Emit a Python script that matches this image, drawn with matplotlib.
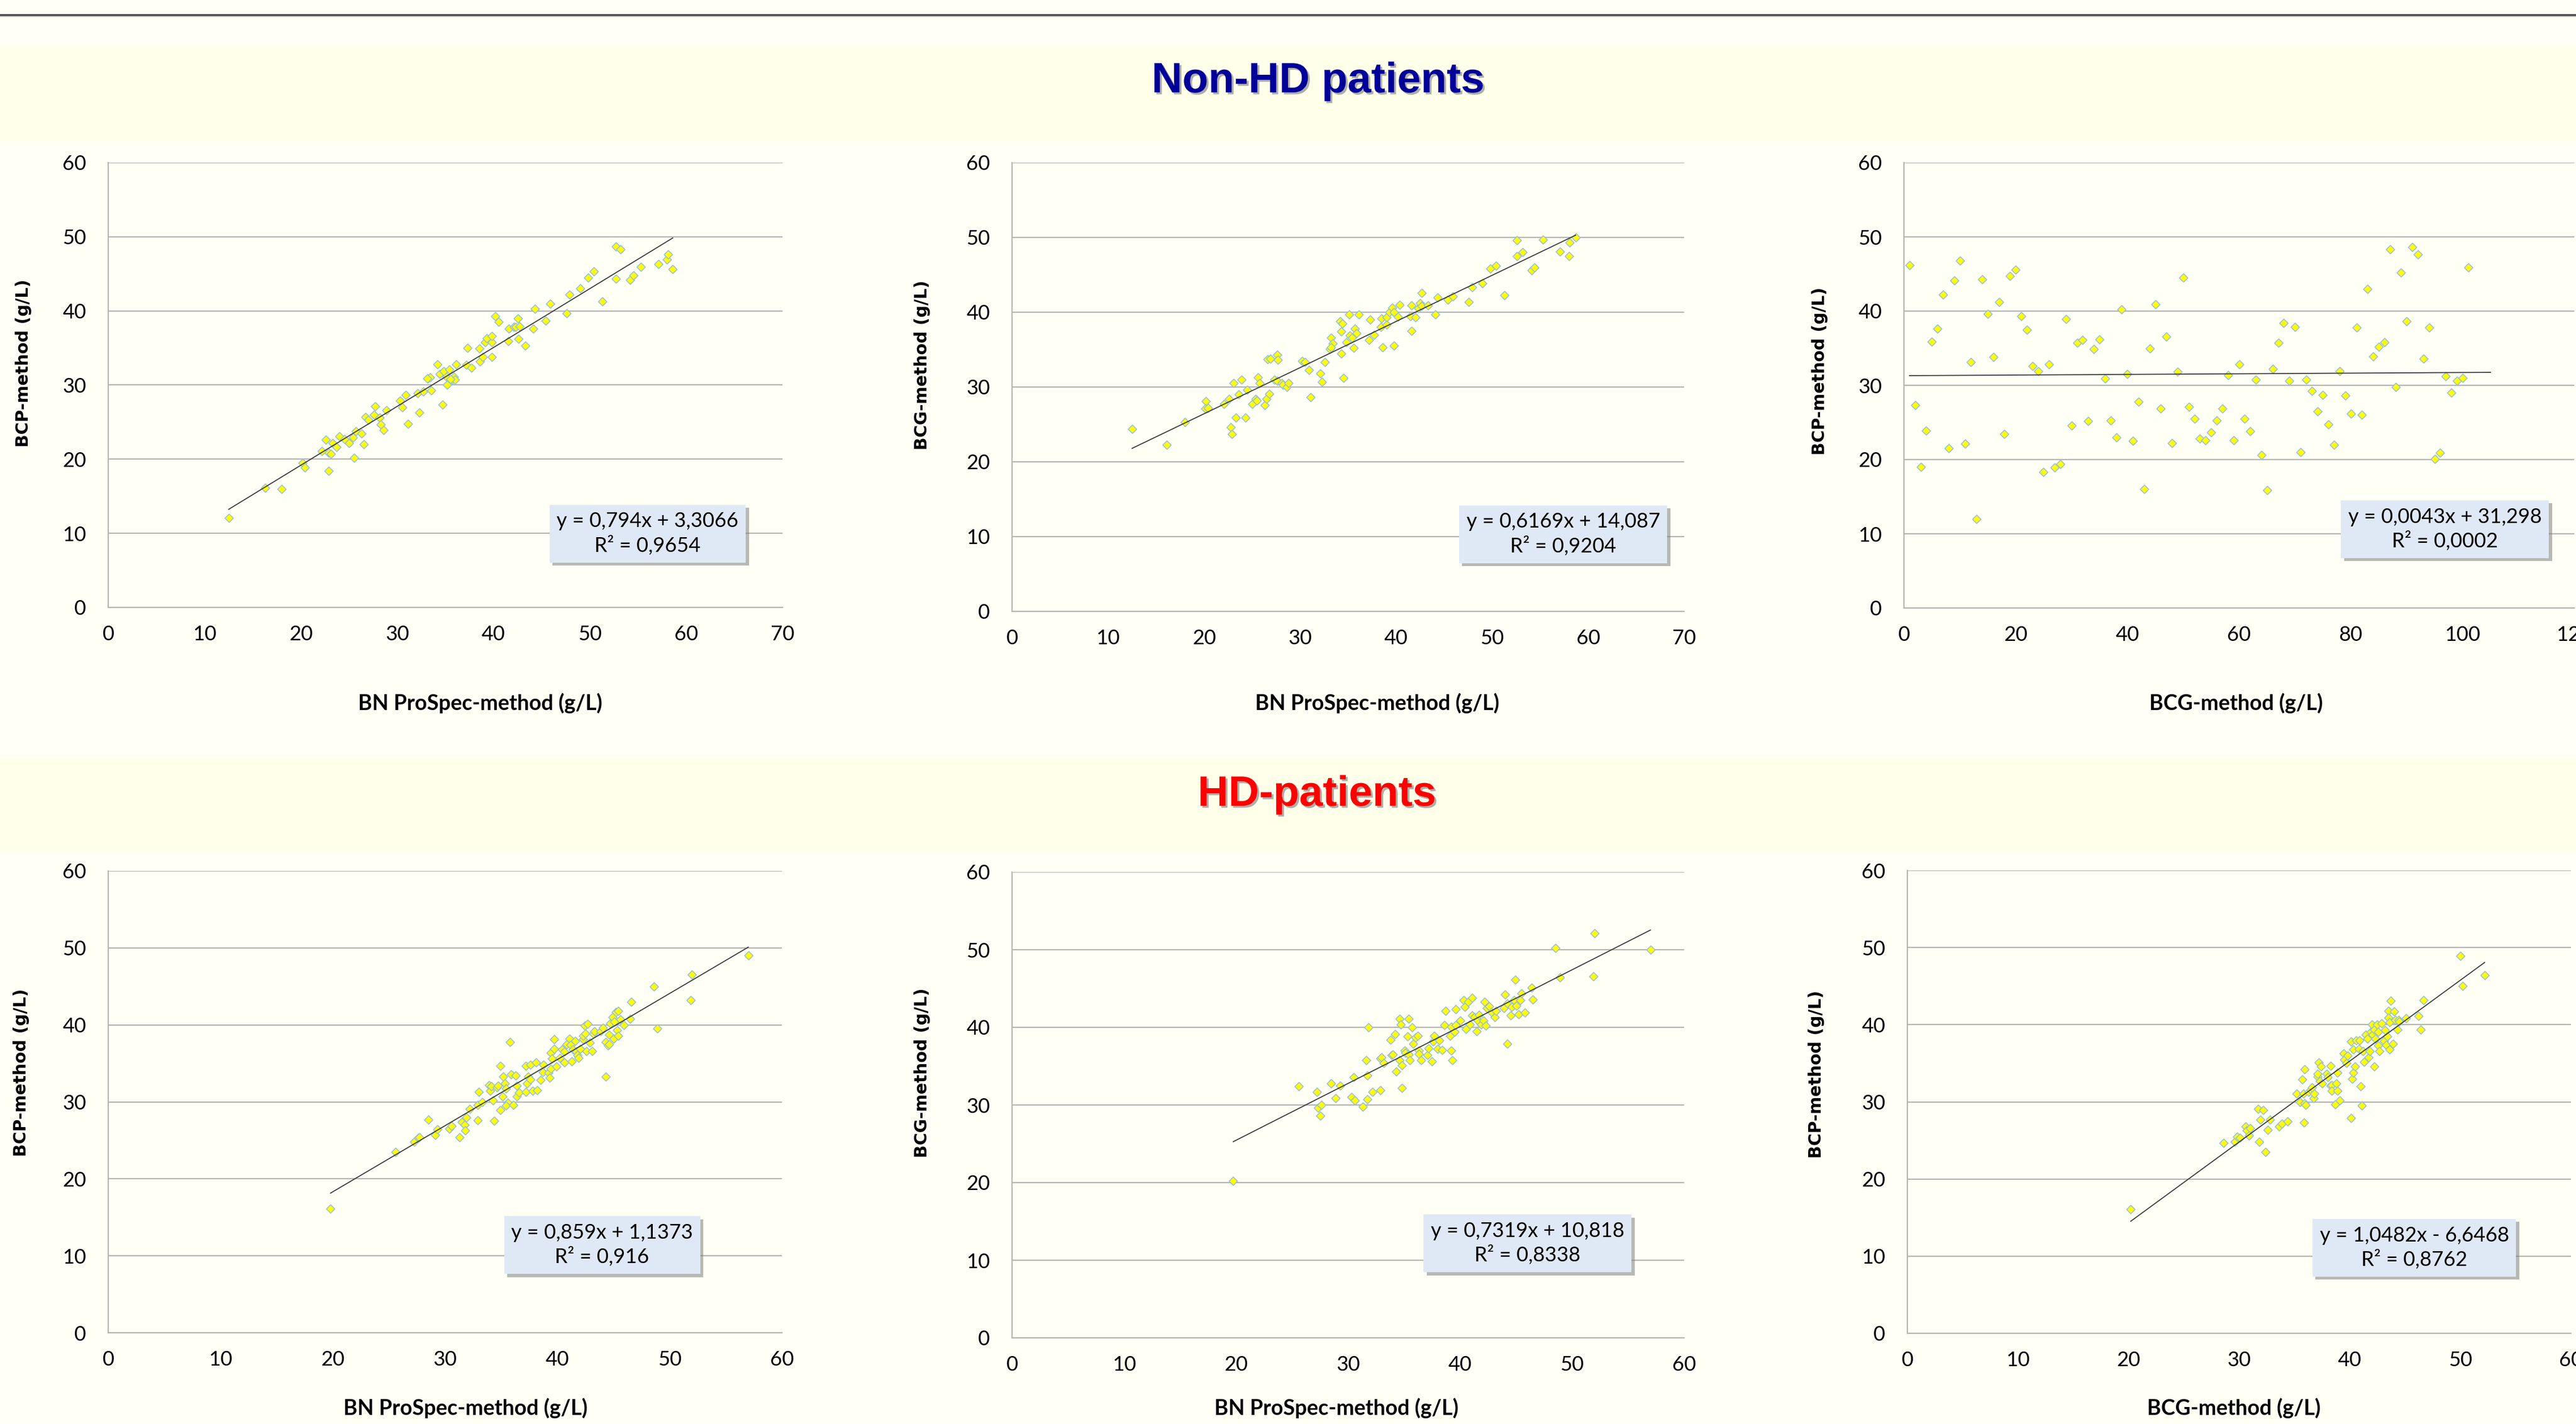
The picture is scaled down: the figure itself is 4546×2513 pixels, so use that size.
import matplotlib
matplotlib.use('Agg')
import matplotlib.pyplot as plt
import matplotlib.patheffects as pe
from matplotlib.patches import Rectangle
from matplotlib.lines import Line2D

plt.rcParams['font.family'] = ['Lato', 'DejaVu Sans']

# ---------------- data ----------------
# non-HD: BN ProSpec vs BCP
bn_nonhd_a = [12.5, 16.3, 18.0, 20.2, 20.4, 22.2, 22.6, 22.9, 22.9, 23.1, 23.3, 23.7, 24.0, 24.5, 25.0,
              25.4, 25.5, 25.7, 26.3, 26.5, 26.7, 27.0, 27.6, 27.7, 28.2, 28.3, 28.6, 28.9, 30.3, 30.5,
              30.9, 31.1, 32.1, 32.3, 32.7, 33.2, 33.4, 33.5, 34.2, 34.4, 34.7, 34.8, 35.2, 35.4, 35.7,
              35.9, 36.0, 36.1, 37.3, 37.2, 37.7, 38.5, 38.6, 38.9, 39.1, 39.3, 39.8, 39.8, 39.8, 40.2,
              40.5, 41.5, 41.6, 42.1, 42.3, 42.5, 42.6, 42.7, 43.3, 44.1, 44.3, 45.4, 45.9, 47.6, 47.9,
              49.0, 49.8, 50.4, 51.3, 52.7, 52.7, 53.2, 54.2, 54.5, 55.3, 57.1, 58.0, 58.1, 58.6,
              35.1, 35.5, 33.1]
bcp_nonhd_a = [12.1, 16.1, 16.0, 19.5, 18.9, 21.1, 22.6, 20.9, 18.4, 20.7, 22.2, 21.6, 23.1, 22.7, 22.2,
               22.9, 20.2, 23.8, 23.5, 22.0, 25.7, 25.3, 26.0, 27.1, 25.6, 24.7, 23.9, 26.6, 27.9, 27.0,
               28.7, 24.8, 28.9, 26.3, 29.1, 30.9, 31.0, 29.3, 32.8, 31.5, 27.4, 31.9, 30.0, 32.1, 30.7,
               31.1, 30.7, 32.8, 35.0, 32.7, 32.3, 34.9, 33.2, 33.8, 35.8, 36.3, 35.8, 36.6, 33.8, 39.3,
               38.5, 35.9, 37.6, 37.8, 37.8, 39.0, 36.2, 37.9, 35.3, 37.6, 40.3, 38.7, 41.0, 39.7, 42.2,
               43.0, 44.5, 45.3, 41.3, 48.7, 44.3, 48.3, 44.2, 44.8, 45.9, 46.3, 46.9, 47.6, 45.6,
               31.1, 30.8, 30.9]

# non-HD: BN ProSpec vs BCG
bn_nonhd_b = [12.5, 16.1, 18.0, 20.2, 20.1, 20.4, 22.1, 22.6, 22.8, 22.9, 23.1, 23.3, 23.6, 23.9, 24.3,
              24.5, 25.0, 25.4, 25.5, 25.6, 25.8, 26.3, 26.5, 26.6, 26.9, 26.8, 27.3, 27.6, 27.7, 27.6,
              28.1, 28.2, 28.6, 28.8, 30.2, 30.5, 30.9, 31.1, 32.1, 32.3, 32.6, 33.1, 33.2, 33.4, 33.2,
              34.2, 34.3, 34.4, 34.3, 34.5, 34.8, 35.1, 35.2, 35.4, 35.6, 35.7, 35.9, 36.1, 37.2, 37.3,
              37.7, 38.5, 38.4, 38.6, 39.0, 39.0, 39.3, 39.6, 39.8, 39.8, 40.2, 40.4, 41.5, 41.6, 41.6,
              42.0, 42.3, 42.5, 42.7, 42.7, 43.3, 44.1, 44.3, 45.4, 45.9, 47.6, 47.9, 49.0, 49.8, 50.4,
              51.3, 52.6, 52.6, 53.2, 54.1, 54.4, 55.3, 57.1, 58.0, 58.1, 58.7]
bcg_nonhd_b = [24.4, 22.3, 25.3, 28.1, 27.1, 27.2, 27.7, 28.4, 24.6, 23.7, 30.5, 25.9, 29.0, 31.0, 25.9,
               29.6, 27.7, 28.4, 28.2, 31.3, 30.5, 27.6, 28.4, 33.7, 33.8, 29.1, 31.0, 34.3, 33.6, 30.8,
               30.5, 30.3, 30.0, 30.5, 33.5, 33.3, 32.3, 28.6, 31.8, 30.7, 33.3, 35.1, 36.6, 35.8, 35.3,
               38.8, 37.4, 38.5, 34.5, 31.2, 36.0, 39.7, 36.9, 36.6, 35.2, 37.8, 37.2, 39.7, 36.3, 39.0,
               37.0, 39.2, 38.0, 35.3, 38.3, 39.3, 40.0, 40.6, 35.5, 40.0, 39.4, 41.0, 39.5, 37.5, 40.9,
               39.3, 40.5, 41.2, 40.8, 42.6, 40.9, 39.7, 42.0, 41.7, 42.1, 41.4, 43.3, 43.9, 45.8, 46.2,
               42.3, 49.6, 47.5, 48.0, 45.6, 46.0, 49.7, 48.1, 47.5, 49.3, 50.0]

# non-HD: BCG vs BCP (plotted against sample number in the original)
bcg_nonhd_c = [1, 2, 3, 4, 5, 6, 7, 8, 9, 10, 11, 12, 13, 14, 15, 16, 17, 18, 19, 20, 21, 22, 23, 24, 25,
               26, 27, 28, 29, 30, 31, 32, 33, 34, 35, 36, 37, 38, 39, 40, 41, 42, 43, 44, 45, 46, 47, 48,
               49, 50, 51, 52, 53, 54, 55, 56, 57, 58, 59, 60, 61, 62, 63, 64, 65, 66, 67, 68, 69, 70, 71,
               72, 73, 74, 75, 76, 77, 78, 79, 80, 81, 82, 83, 84, 85, 86, 87, 88, 89, 90, 91, 92, 93, 94,
               95, 96, 97, 98, 99, 100, 101]
bcp_nonhd_c = [46.2, 27.3, 19.0, 23.9, 35.9, 37.6, 42.2, 21.5, 44.1, 46.8,
               22.1, 33.1, 12.0, 44.3, 39.6, 33.8, 41.2, 23.4, 44.7, 45.6,
               39.3, 37.5, 32.6, 31.9, 18.3, 32.8, 18.9, 19.4, 38.9, 24.6,
               35.7, 36.1, 25.2, 34.9, 36.2, 30.9, 25.3, 23.0, 40.2, 31.5,
               22.5, 27.8, 16.0, 35.0, 40.9, 26.9, 36.6, 22.2, 31.8, 44.5,
               27.1, 25.5, 22.8, 22.6, 23.7, 25.3, 26.9, 31.4, 22.6, 32.8,
               25.5, 23.8, 30.8, 20.6, 15.9, 32.2, 35.7, 38.4, 30.6, 37.9,
               21.0, 30.8, 29.2, 26.5, 28.7, 24.7, 22.0, 31.9, 28.6, 26.2,
               37.8, 26.0, 43.0, 33.9, 35.2, 35.8, 48.3, 29.8, 45.2, 38.6,
               48.6, 47.6, 33.6, 37.8, 20.1, 20.9, 31.2, 29.0, 30.6, 31.0, 45.9]

# HD: BN ProSpec vs BCP
bn_hd_a = [19.8, 25.6, 27.25, 27.6, 27.7, 28.5, 29.1, 29.3, 30.4, 30.6,
           31.3, 31.5, 31.75, 31.8, 31.9, 32.2, 32.9, 32.9, 33.0, 33.3,
           33.9, 34.0, 34.1, 34.25, 34.35, 34.6, 34.7, 34.9, 34.9, 35.1,
           35.15, 35.3, 35.4, 35.6, 35.4, 35.8, 35.9, 36.1, 36.3, 36.4,
           36.4, 36.6, 37.2, 37.2, 37.3, 37.4, 37.6, 37.6, 37.8, 38.1,
           38.2, 38.5, 38.7, 38.75, 39.2, 39.3, 39.4, 39.4, 39.5, 39.7,
           39.7, 39.9, 40.2, 40.4, 40.6, 40.6, 40.8, 41.1, 41.2, 41.3,
           41.4, 41.6, 41.7, 41.8, 41.9, 42.05, 42.3, 42.3, 42.45, 42.5,
           42.6, 42.7, 42.9, 43.1, 43.2, 43.3, 43.85, 44.05, 44.3, 44.3,
           44.5, 44.6, 44.6, 44.7, 44.9, 45.0, 45.06, 45.2, 45.3, 45.4,
           45.4, 45.6, 45.9, 46.5, 46.6, 48.6, 48.9, 51.9, 52.0, 57.0]
bcp_hd_a = [16.1, 23.5, 24.8, 25.3, 25.4, 27.7, 25.7, 26.4, 26.5, 26.9,
            25.4, 27.4, 27.0, 26.3, 28.0, 29.1, 27.6, 29.6, 31.3, 30.0,
            32.2, 31.4, 32.0, 30.2, 27.5, 31.9, 32.1, 34.7, 28.9, 30.7,
            33.3, 32.4, 31.7, 29.9, 29.5, 37.8, 33.6, 29.6, 33.4, 32.1,
            30.7, 31.2, 31.3, 34.7, 32.4, 33.3, 34.8, 32.9, 31.4, 35.1,
            31.5, 32.8, 33.9, 34.8, 33.8, 33.1, 34.3, 36.4, 35.6, 38.1,
            36.9, 34.6, 35.7, 36.8, 36.5, 35.1, 37.5, 38.2, 37.4, 35.3,
            36.8, 37.9, 36.5, 36.1, 35.7, 36.9, 38.1, 38.6, 39.9, 38.9,
            36.6, 40.1, 37.7, 36.6, 38.9, 39.2, 39.2, 39.6, 33.3, 37.8,
            37.3, 38.7, 37.5, 40.2, 41.0, 38.2, 40.4, 41.7, 39.3, 41.8,
            38.6, 40.7, 40.0, 40.8, 43.0, 45.0, 39.5, 43.2, 46.5, 49.0]

# HD: BN ProSpec vs BCG
bn_hd_b = [19.75, 25.6, 27.2, 27.3, 27.5, 27.6, 28.5, 28.9, 29.3, 30.3,
           30.5, 30.6, 31.3, 31.6, 31.7, 31.7, 31.8, 32.2, 32.9, 32.9,
           33.0, 33.2, 33.8, 33.9, 34.0, 34.2, 34.3, 34.6, 34.7, 34.8,
           34.6, 34.8, 35.05, 35.1, 35.3, 35.4, 35.4, 35.5, 35.7, 35.8,
           36.0, 36.2, 36.3, 36.3, 36.55, 37.1, 37.2, 37.5, 37.6, 37.7,
           38.0, 38.15, 38.4, 38.6, 38.7, 39.2, 39.3, 39.1, 39.2, 39.5,
           39.6, 39.6, 40.0, 40.3, 40.4, 40.5, 40.7, 40.9, 41.1, 41.1,
           41.3, 41.5, 41.6, 41.7, 41.9, 42.1, 42.2, 42.3, 42.4, 42.6,
           42.8, 43.1, 43.2, 43.9, 44.0, 44.2, 44.2, 44.5, 44.6, 44.8,
           44.9, 45.0, 45.25, 45.4, 45.5, 45.8, 46.4, 46.5, 48.5, 48.9,
           51.9, 52.0, 57.0]
bcg_hd_b = [20.2, 32.4, 31.7, 29.6, 28.6, 30.0, 32.8, 30.9, 32.5, 31.0,
            33.6, 30.6, 29.8, 35.8, 33.8, 30.7, 40.0, 31.7, 31.9, 36.0,
            36.1, 35.4, 38.4, 36.4, 36.5, 39.1, 34.3, 41.1, 40.4, 32.2,
            35.8, 35.1, 37.0, 36.7, 38.8, 41.1, 36.5, 35.8, 40.0, 37.9,
            38.7, 38.9, 37.0, 36.6, 35.8, 36.4, 37.3, 35.6, 38.2, 38.9,
            37.2, 38.3, 37.1, 40.3, 42.1, 37.0, 35.8, 38.9, 40.1, 39.4,
            42.3, 40.3, 40.9, 43.5, 42.6, 39.8, 43.3, 40.4, 43.8, 41.5,
            41.3, 39.5, 40.9, 41.6, 40.4, 40.9, 43.3, 40.2, 42.5, 42.7,
            42.0, 41.3, 42.1, 42.5, 44.2, 37.9, 43.1, 41.5, 42.6, 43.5,
            46.1, 42.8, 41.7, 43.5, 44.4, 41.9, 45.1, 43.6, 50.2, 46.4,
            46.6, 52.1, 50.0]

# HD: BCG vs BCP
bcg_hd_c = [20.2, 28.6, 29.6, 29.8, 30.06, 30.6, 30.7, 31.0, 30.9, 31.7,
            32.2, 31.9, 31.8, 32.4, 32.6, 32.8, 33.6, 33.85, 34.4, 35.2,
            35.5, 35.7, 35.8, 35.9, 35.9, 35.85, 36.0, 36.3, 36.5, 36.6,
            36.75, 36.8, 37.1, 37.1, 37.2, 37.3, 37.4, 37.5, 37.9, 38.0,
            38.3, 38.3, 38.4, 38.4, 38.7, 38.8, 38.9, 38.9, 39.1, 39.45,
            39.5, 39.7, 39.8, 40.1, 40.1, 40.2, 40.3, 40.3, 40.5, 40.6,
            40.9, 40.85, 41.0, 41.1, 41.2, 41.3, 41.45, 41.6, 41.7, 41.8,
            41.9, 42.0, 42.05, 42.2, 42.2, 42.3, 42.5, 42.6, 42.6, 42.7,
            42.9, 43.1, 43.2, 43.3, 43.4, 43.5, 43.5, 43.6, 43.7, 43.6,
            43.9, 44.0, 44.1, 44.3, 44.4, 44.5, 45.1, 46.2, 46.4, 46.7,
            50.0, 50.2, 52.2]
bcp_hd_c = [16.1, 24.7, 24.8, 25.5, 25.3, 26.8, 26.3, 26.55, 25.6, 29.1,
            28.9, 27.7, 24.8, 23.5, 26.4, 27.7, 26.8, 27.2, 27.5, 31.1,
            30.0, 32.9, 31.1, 34.2, 29.8, 27.3, 29.6, 31.3, 31.6, 31.9,
            30.5, 31.1, 33.3, 33.6, 35.1, 32.7, 34.6, 32.4, 33.6, 33.2,
            34.7, 32.1, 32.2, 31.4, 29.7, 32.4, 31.4, 33.8, 30.2, 36.3,
            35.5, 35.0, 36.0, 37.8, 27.9, 33.0, 36.8, 33.8, 34.6, 38.0,
            38.0, 36.9, 32.0, 29.5, 36.6, 35.2, 38.7, 38.2, 35.8, 36.6,
            39.1, 40.0, 38.7, 34.6, 39.4, 38.2, 40.0, 39.1, 37.3, 36.6,
            40.2, 37.9, 39.3, 37.4, 38.5, 41.8, 40.9, 36.8, 43.1, 40.3,
            37.5, 41.7, 40.6, 39.4, 40.6, 40.4, 40.8, 41.1, 39.4, 43.2,
            48.9, 45.0, 46.4]

# trendline slope / intercept and x span, plus the labels as printed
slopes = [0.794, 0.6169, 0.0043, 0.859, 0.7319, 1.0482]
intercepts = [3.3066, 14.087, 31.298, 1.1373, 10.818, -6.6468]
trend_x0 = [12.5, 12.5, 1, 19.8, 19.75, 20.2]
trend_x1 = [58.6, 58.7, 105, 57.0, 57.0, 52.2]
equations = ['y = 0,794x + 3,3066\nR² = 0,9654',
             'y = 0,6169x + 14,087\nR² = 0,9204',
             'y = 0,0043x + 31,298\nR² = 0,0002',
             'y = 0,859x + 1,1373\nR² = 0,916',
             'y = 0,7319x + 10,818\nR² = 0,8338',
             'y = 1,0482x - 6,6468\nR² = 0,8762']
x_labels = ['BN ProSpec-method (g/L)', 'BN ProSpec-method (g/L)', 'BCG-method (g/L)',
            'BN ProSpec-method (g/L)', 'BN ProSpec-method (g/L)', 'BCG-method (g/L)']
y_labels = ['BCP-method (g/L)', 'BCG-method (g/L)', 'BCP-method (g/L)',
            'BCP-method (g/L)', 'BCG-method (g/L)', 'BCP-method (g/L)']
x_max = [70, 70, 120, 60, 60, 60]
x_step = [10, 10, 20, 10, 10, 10]

xs = [bn_nonhd_a, bn_nonhd_b, bcg_nonhd_c, bn_hd_a, bn_hd_b, bcg_hd_c]
ys = [bcp_nonhd_a, bcg_nonhd_b, bcp_nonhd_c, bcp_hd_a, bcg_hd_b, bcp_hd_c]

# ---------------- layout (pixels of the 4546x2513 slide) ----------------
W, H = 4546, 2513
BG = '#FFFFF6'
BAND = '#FFFFEA'
GRID = '#B5B5B0'

# left, top, right, bottom of each plot area
ax_px = [(191, 287, 1381, 1072), (1786, 287, 2972, 1079), (3360, 287, 4543, 1073),
         (191, 1537, 1380, 2352), (1786, 1539, 2972, 2361), (3366, 1536, 4537, 2353)]
box_pos = [(0.800, 0.166), (0.820, 0.172), (0.807, 0.177),
           (0.733, 0.190), (0.767, 0.203), (0.764, 0.185)]
xlab_pos = [(847, 1241), (2430, 1241), (3946, 1241), (821, 2485), (2358, 2485), (3942, 2485)]
ylab_pos = [(42, 641), (1627, 644), (3211, 655), (38, 1893), (1627, 1893), (3206, 1896)]

fig = plt.figure(figsize=(W / 100, H / 100), dpi=100)
fig.patch.set_facecolor(BG)

# title bands and the rule at the very top
fig.add_artist(Rectangle((0, 1 - 248 / H), 1, 168 / H, transform=fig.transFigure,
                         fc=BAND, ec='none', zorder=0))
fig.add_artist(Rectangle((0, 1 - 1503 / H), 1, 164 / H, transform=fig.transFigure,
                         fc=BAND, ec='none', zorder=0))
fig.add_artist(Line2D([0, 1], [1 - 25.5 / H] * 2, transform=fig.transFigure, color='#4A4A4A', lw=2.3))
fig.add_artist(Line2D([0, 1], [1 - 29 / H] * 2, transform=fig.transFigure, color='#B0B0A8', lw=1.2))

shadow = [pe.SimplePatchShadow(offset=(2.5, -2.5), shadow_rgbFace='#8C8C8C', alpha=0.7), pe.Normal()]
fig.text(2326 / W, 1 - 163 / H, 'Non-HD patients', ha='center', va='baseline', fontsize=54,
         fontweight='bold', family='Liberation Sans', color='#000099', path_effects=shadow)
fig.text(2324 / W, 1 - 1422 / H, 'HD-patients', ha='center', va='baseline', fontsize=54,
         fontweight='bold', family='Liberation Sans', color='#FF0000', path_effects=shadow)

for i in range(6):
    l, t, r, b = ax_px[i]
    ax = fig.add_axes([l / W, 1 - b / H, (r - l) / W, (b - t) / H])
    ax.set_facecolor('none')
    ax.set_xlim(0, x_max[i])
    ax.set_ylim(0, 60)
    ax.set_xticks(range(0, x_max[i] + 1, x_step[i]))
    ax.set_yticks(range(0, 61, 10))
    ax.tick_params(length=0, labelsize=26)
    ax.tick_params(axis='x', pad=22)
    ax.tick_params(axis='y', pad=28)
    for s in ['top', 'right']:
        ax.spines[s].set_visible(False)
    for s in ['left', 'bottom']:
        ax.spines[s].set_color(GRID)
        ax.spines[s].set_linewidth(1.6)
    ax.grid(axis='y', color=GRID, lw=1.6)
    ax.set_axisbelow(True)

    ax.scatter(xs[i], ys[i], marker='D', s=58, facecolor='#FFFF00', edgecolor='#95BCE2',
               linewidths=1.1, zorder=3)
    xx = [trend_x0[i], trend_x1[i]]
    ax.plot(xx, [slopes[i] * v + intercepts[i] for v in xx], color='#3A3A3A', lw=1.3, zorder=4)

    bx, by = box_pos[i]
    t = ax.text(bx, by, equations[i], transform=ax.transAxes, ha='center', va='center',
                multialignment='center', fontsize=26, linespacing=1.3, zorder=5,
                bbox=dict(boxstyle='square,pad=0.35', fc='#DFE9F5', ec='none'))
    t.get_bbox_patch().set_path_effects(
        [pe.SimplePatchShadow(offset=(4, -4), shadow_rgbFace='#7F7F7F', alpha=0.55), pe.Normal()])

    fig.text(xlab_pos[i][0] / W, 1 - xlab_pos[i][1] / H, x_labels[i], ha='center', va='center',
             fontsize=27, fontweight='bold')
    fig.text(ylab_pos[i][0] / W, 1 - ylab_pos[i][1] / H, y_labels[i], ha='center', va='center',
             rotation=90, fontsize=21.5, fontweight='bold', family='DejaVu Sans')

fig.savefig('out.png', dpi=100, facecolor=BG)
